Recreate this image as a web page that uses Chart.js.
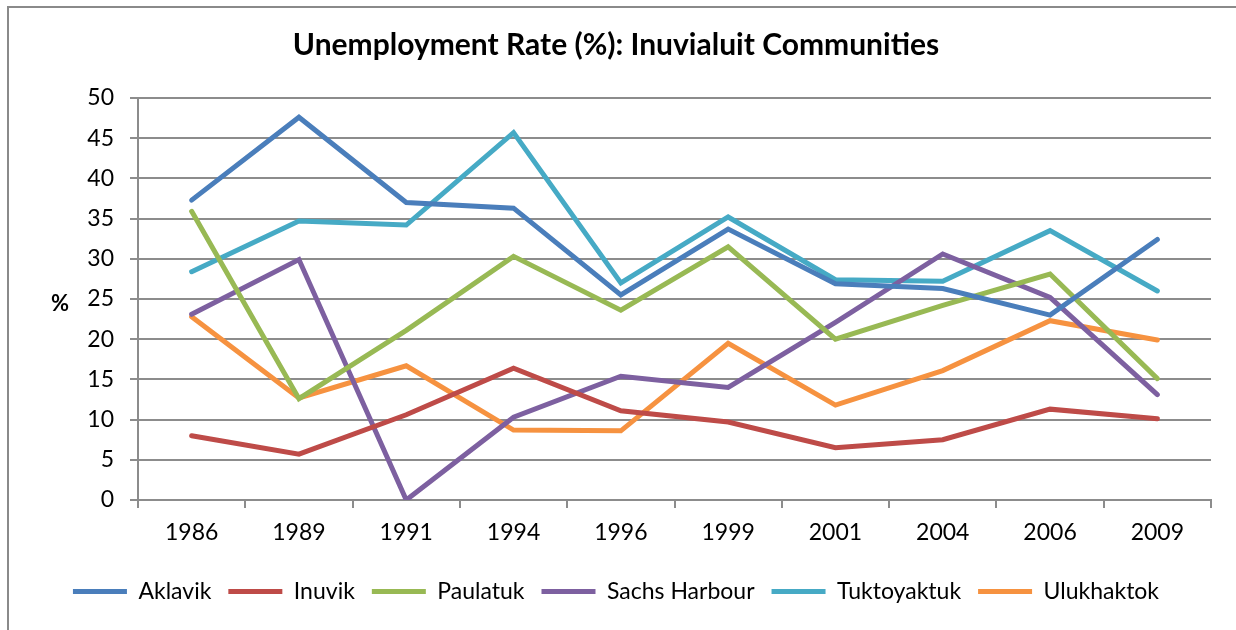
<!DOCTYPE html>
<html>
<head>
<meta charset="utf-8">
<script src="https://cdn.jsdelivr.net/npm/chart.js@4.4.1/dist/chart.umd.min.js"></script>
<style>
	html, body { margin: 0; padding: 0; background: #fff; overflow: hidden; }
	#frame { position: absolute; left: 7px; top: 6px; width: 1300px; height: 700px; border: 2px solid #8a8a8a; }
	#wrap { position: absolute; left: 0; top: 0; width: 1236px; height: 630px; }
</style>
</head>
<body>
<div id="frame"></div>
<div id="wrap"><canvas id="myChart" width="1236" height="630"></canvas></div>
<script>
	/* chart data */
	var years = ['1986', '1989', '1991', '1994', '1996', '1999', '2001', '2004', '2006', '2009'];

	var aklavik      = [37.3, 47.6, 37.0, 36.3, 25.5, 33.7, 26.9, 26.3, 23.0, 32.4];
	var inuvik       = [8.0, 5.7, 10.6, 16.4, 11.1, 9.7, 6.5, 7.5, 11.3, 10.1];
	var paulatuk     = [35.9, 12.6, 21.1, 30.3, 23.6, 31.5, 20.0, 24.2, 28.1, 15.1];
	var sachsHarbour = [23.1, 29.9, 0.0, 10.3, 15.4, 14.0, 22.1, 30.6, 25.2, 13.1];
	var tuktoyaktuk  = [28.4, 34.7, 34.2, 45.7, 27.0, 35.2, 27.4, 27.2, 33.5, 26.0];
	var ulukhaktok   = [22.8, 12.7, 16.7, 8.7, 8.6, 19.5, 11.8, 16.1, 22.3, 19.9];

	var yTicks = [0, 5, 10, 15, 20, 25, 30, 35, 40, 45, 50];

	var seriesNames  = ['Aklavik', 'Inuvik', 'Paulatuk', 'Sachs Harbour', 'Tuktoyaktuk', 'Ulukhaktok'];
	var seriesValues = [aklavik, inuvik, paulatuk, sachsHarbour, tuktoyaktuk, ulukhaktok];
	var seriesColors = ['#4a7ebb', '#be4b48', '#98b954', '#7d60a0', '#46aac5', '#f69240'];

	var gridColor = '#8c8c8c';
	var fontName = 'Lato, "Open Sans", sans-serif';

	// "%" label, drawn upright left of the y axis
	var percentLabel = {
		id: 'percentLabel',
		afterDraw: function(chart) {
			var ctx = chart.ctx,
				y = chart.scales.y;
			ctx.save();
			ctx.font = 'bold 22px ' + fontName;
			ctx.fillStyle = '#000';
			ctx.textAlign = 'center';
			ctx.textBaseline = 'middle';
			ctx.fillText('%', y.right - 78, (y.top + y.bottom) / 2 + 5);
			ctx.restore();
		}
	};

	var datasets = seriesNames.map(function(name, i) {
		return {
			label: name,
			data: seriesValues[i],
			borderColor: seriesColors[i],
			backgroundColor: seriesColors[i],
			borderWidth: 5,
			borderCapStyle: 'round',
			borderJoinStyle: 'miter',
			pointRadius: 0,
			pointHoverRadius: 0,
			tension: 0
		};
	});

	var ctx = document.getElementById('myChart').getContext('2d');

	var myNewChart = new Chart(ctx, {
		type: 'line',
		data: {
			labels: years,
			datasets: datasets
		},
		plugins: [percentLabel],
		options: {
			responsive: false,
			animation: false,
			layout: {
				padding: { left: 21, right: 25, top: 0, bottom: 17 }
			},
			plugins: {
				title: {
					display: true,
					text: 'Unemployment Rate (%): Inuvialuit Communities',
					color: '#000',
					font: { family: fontName, size: 30, weight: 'bold' },
					padding: { top: 27, bottom: 35 }
				},
				legend: {
					position: 'bottom',
					labels: {
						color: '#000',
						font: { family: fontName, size: 23 },
						usePointStyle: true,
						pointStyle: 'line',
						pointStyleWidth: 54,
						padding: 17
					}
				},
				tooltip: { enabled: false }
			},
			scales: {
				x: {
					offset: true,
					afterFit: function(scale) { scale.height = 63; },
					grid: {
						offset: true,
						drawOnChartArea: false,
						drawTicks: true,
						tickLength: 8,
						color: gridColor,
						lineWidth: 2
					},
					border: { color: gridColor, width: 2 },
					ticks: {
						color: '#000',
						font: { family: fontName, size: 23 },
						padding: 11,
						maxRotation: 0
					}
				},
				y: {
					min: 0,
					max: 50,
					afterFit: function(scale) { scale.width = 117; },
					afterBuildTicks: function(scale) {
						scale.ticks = yTicks.map(function(v) { return { value: v }; });
					},
					grid: {
						drawTicks: true,
						tickLength: 8,
						color: gridColor,
						lineWidth: 2
					},
					border: { color: gridColor, width: 2 },
					ticks: {
						color: '#000',
						font: { family: fontName, size: 23 },
						padding: 16
					}
				}
			}
		}
	});
</script>
</body>
</html>
